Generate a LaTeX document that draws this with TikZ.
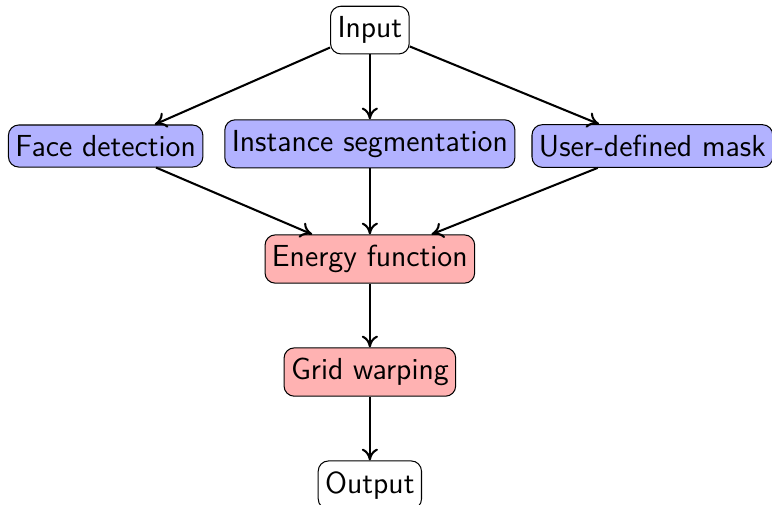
\documentclass[tikz,border=0pt]{standalone}
\usetikzlibrary{arrows.meta,positioning}
\tikzset{
  >={To[length=1.6mm,width=2.2mm]},
  stage/.style={draw=black,fill=#1,rounded corners=4pt,align=center,
    font=\fontsize{11.8pt}{14pt}\sffamily,inner xsep=2.7pt,inner ysep=4pt},
  stage/.default=white,
  flow/.style={->,thick,draw=black},
}
\begin{document}
\begin{tikzpicture}
    \useasboundingbox (-5.04,0.41) rectangle (5.48,-6.47);
    \node[stage] (in) at (0,0) {Input};
    \node[stage=blue!30] (face) at (-3.6,-1.58) {Face detection};
    \node[stage=blue!30] (seg) at (0,-1.55) {Instance segmentation};
    \node[stage=blue!30] (mask) at (3.85,-1.58) {User-defined mask};
    \node[stage=red!30] (energy) at (0,-3.12) {Energy function};
    \node[stage=red!30] (warp) at (0,-4.66) {Grid warping};
    \node[stage] (out) at (0,-6.2) {Output};
    \draw[flow] (in) -- (face); \draw[flow] (in) -- (seg); \draw[flow] (in) -- (mask);
    \draw[flow] (face) -- (energy); \draw[flow] (seg) -- (energy); \draw[flow] (mask) -- (energy);
    \draw[flow] (energy) -- (warp); \draw[flow] (warp) -- (out);
\end{tikzpicture}
\end{document}
